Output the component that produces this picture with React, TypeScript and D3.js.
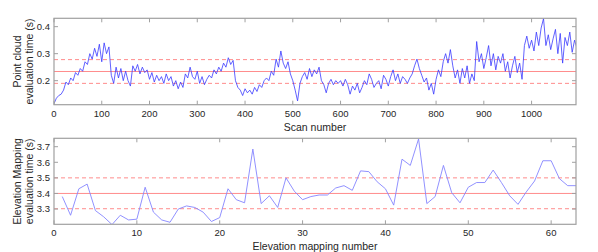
import React from 'react'
import * as d3 from 'd3'

const scanStep = 5
const pointCloudTimes: number[] = [
    0.115, 0.135, 0.145, 0.15, 0.165, 0.195, 0.185, 0.21, 0.2, 0.23,
    0.22, 0.245, 0.235, 0.27, 0.26, 0.3, 0.28, 0.32, 0.29, 0.335,
    0.27, 0.34, 0.3, 0.325, 0.22, 0.19, 0.25, 0.21, 0.245, 0.2,
    0.235, 0.2, 0.18, 0.255, 0.235, 0.26, 0.225, 0.25, 0.23, 0.24,
    0.205, 0.23, 0.195, 0.22, 0.2, 0.215, 0.19, 0.225, 0.2, 0.215,
    0.18, 0.2, 0.17, 0.195, 0.175, 0.225, 0.21, 0.25, 0.215, 0.205,
    0.235, 0.19, 0.215, 0.185, 0.205, 0.22, 0.21, 0.24, 0.225, 0.25,
    0.235, 0.265, 0.25, 0.285, 0.26, 0.275, 0.2, 0.175, 0.165, 0.145,
    0.17, 0.155, 0.165, 0.15, 0.175, 0.16, 0.185, 0.175, 0.2, 0.21,
    0.2, 0.235, 0.22, 0.28, 0.25, 0.31, 0.265, 0.245, 0.27, 0.225,
    0.2, 0.165, 0.125, 0.19, 0.215, 0.23, 0.205, 0.245, 0.215, 0.24,
    0.225, 0.25, 0.2, 0.185, 0.155, 0.19, 0.205, 0.185, 0.2, 0.19,
    0.2, 0.18, 0.205, 0.185, 0.15, 0.18, 0.165, 0.19, 0.155, 0.175,
    0.2, 0.185, 0.225, 0.205, 0.175, 0.19, 0.2, 0.17, 0.22, 0.205,
    0.18, 0.215, 0.24, 0.2, 0.225, 0.19, 0.215, 0.205, 0.19, 0.21,
    0.225, 0.255, 0.28, 0.245, 0.22, 0.195, 0.21, 0.165, 0.19, 0.15,
    0.205, 0.24, 0.215, 0.27, 0.3, 0.265, 0.315, 0.255, 0.21, 0.24,
    0.19, 0.245, 0.21, 0.255, 0.19, 0.225, 0.2, 0.345, 0.27, 0.3,
    0.245, 0.285, 0.33, 0.255, 0.3, 0.24, 0.29, 0.265, 0.3, 0.235,
    0.27, 0.21, 0.255, 0.29, 0.23, 0.265, 0.205, 0.33, 0.365, 0.32,
    0.35, 0.31, 0.38, 0.33, 0.395, 0.43, 0.33, 0.37, 0.315, 0.355,
    0.39, 0.3, 0.375, 0.265, 0.36, 0.33, 0.38, 0.305, 0.35, 0.32, 0.335,
]
const pointCloudStats = [0.234, 0.278, 0.19] // mean, mean+std, mean-std
const scanTicks = [0, 100, 200, 300, 400, 500, 600, 700, 800, 900, 1000]
const pointCloudTicks = [0.2, 0.3, 0.4]

// elevation mapping evaluation time (s), runs 1..63
const mappingTimes: number[] = [
    3.38, 3.26, 3.43, 3.46, 3.29, 3.25, 3.2, 3.26, 3.23, 3.235,
    3.44, 3.28, 3.23, 3.215, 3.3, 3.32, 3.31, 3.28, 3.22, 3.245,
    3.43, 3.36, 3.34, 3.685, 3.335, 3.385, 3.31, 3.5, 3.415, 3.36,
    3.38, 3.39, 3.39, 3.435, 3.45, 3.42, 3.545, 3.54, 3.475, 3.43,
    3.325, 3.62, 3.58, 3.75, 3.335, 3.38, 3.58, 3.405, 3.34, 3.44,
    3.47, 3.47, 3.55, 3.47, 3.385, 3.33, 3.41, 3.48, 3.61, 3.61,
    3.495, 3.45, 3.45,
]
const mappingStats = [3.4, 3.5, 3.302]
const mappingXTicks = [0, 10, 20, 30, 40, 50, 60]
const mappingYTicks = [3.3, 3.4, 3.5, 3.6, 3.7]

const font = 'Liberation Sans, Arial, Helvetica, sans-serif'
const textColor = '#262626'
const boxColor = '#a0a0a0'
const meanColor = '#ff8c8c'

interface PanelProps {
    top: number
    height: number
    xDomain: [number, number]
    yDomain: [number, number]
    xTicks: number[]
    yTicks: number[]
    points: [number, number][]
    stats: number[]
    lineColor: string
    lineWidth: number
    xLabel: string
    yLabel: string[]
}

const left = 54
const right = 576

function Panel(props: PanelProps) {
    const x = d3.scaleLinear().domain(props.xDomain).range([left, right])
    const y = d3.scaleLinear().domain(props.yDomain).range([props.top + props.height, props.top])
    const bottom = props.top + props.height
    const line = d3.line<[number, number]>().x(d => x(d[0])).y(d => y(d[1]))
    const tickLen = 4
    const yCenter = props.top + props.height / 2

    return (
        <g>
            <defs>
                <clipPath id={`clip-${props.top}`}>
                    <rect x={left} y={props.top} width={right - left} height={props.height} />
                </clipPath>
            </defs>
            {props.stats.map((v, i) => (
                <line key={`stat-${i}`} x1={left} x2={right} y1={y(v)} y2={y(v)}
                      stroke={meanColor} strokeWidth={1}
                      strokeDasharray={i === 0 ? undefined : '4,3'} />
            ))}
            <path d={line(props.points) ?? ''} fill="none" stroke={props.lineColor}
                  strokeWidth={props.lineWidth} clipPath={`url(#clip-${props.top})`} />
            <rect x={left} y={props.top} width={right - left} height={props.height}
                  fill="none" stroke={boxColor} strokeWidth={1.2} />
            {props.xTicks.map(t => (
                <g key={`xt-${t}`}>
                    <line x1={x(t)} x2={x(t)} y1={bottom} y2={bottom - tickLen} stroke={boxColor} />
                    <line x1={x(t)} x2={x(t)} y1={props.top} y2={props.top + tickLen} stroke={boxColor} />
                    <text x={x(t)} y={bottom + 12} textAnchor="middle" fontSize={9.5}
                          fontFamily={font} fill={textColor}>{t}</text>
                </g>
            ))}
            {props.yTicks.map(t => (
                <g key={`yt-${t}`}>
                    <line x1={left} x2={left + tickLen} y1={y(t)} y2={y(t)} stroke={boxColor} />
                    <line x1={right} x2={right - tickLen} y1={y(t)} y2={y(t)} stroke={boxColor} />
                    <text x={left - 4} y={y(t) + 3.4} textAnchor="end" fontSize={9.5}
                          fontFamily={font} fill={textColor}>{t.toFixed(1)}</text>
                </g>
            ))}
            <text x={(left + right) / 2} y={bottom + 26} textAnchor="middle" fontSize={10.5}
                  fontFamily={font} fill={textColor}>{props.xLabel}</text>
            <text transform={`translate(21, ${yCenter}) rotate(-90)`} textAnchor="middle"
                  fontSize={10.5} fontFamily={font} fill={textColor}>
                {props.yLabel.map((s, i) => (
                    <tspan key={i} x={0} dy={i === 0 ? 0 : 11.5}>{s}</tspan>
                ))}
            </text>
        </g>
    )
}

export default function App() {
    const scanPoints: [number, number][] = pointCloudTimes.map((v, i) => [i * scanStep, v])
    const mapPoints: [number, number][] = mappingTimes.map((v, i) => [i + 1, v])

    return (
        <svg width={598} height={252} style={{ position: 'absolute', left: 0, top: 0, background: '#fff' }}>
            <Panel top={18.3} height={86.4} xDomain={[0, 1093]} yDomain={[0.111, 0.431]}
                   xTicks={scanTicks} yTicks={pointCloudTicks} points={scanPoints}
                   stats={pointCloudStats} lineColor="#3a3aff" lineWidth={0.8}
                   xLabel="Scan number" yLabel={['Point cloud', 'evaluation time (s)']} />
            <Panel top={138.3} height={86} xDomain={[0, 63]} yDomain={[3.202, 3.754]}
                   xTicks={mappingXTicks} yTicks={mappingYTicks} points={mapPoints}
                   stats={mappingStats} lineColor="#8585ff" lineWidth={0.9}
                   xLabel="Elevation mapping number" yLabel={['Elevation Mapping', 'evaluation time (s)']} />
        </svg>
    )
}
